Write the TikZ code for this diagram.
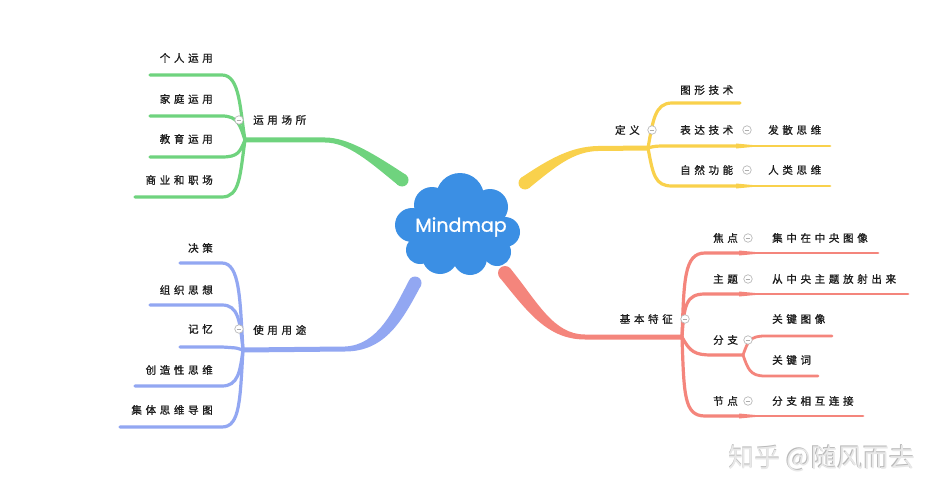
\documentclass[tikz,border=0pt]{standalone}
\usepackage{fontspec}
\newfontfamily\cjk[LetterSpace=35,FakeBold=1.3]{Noto Sans CJK SC}
\newfontfamily\wmfont{Noto Sans CJK SC}
\newfontfamily\mmfont[FakeBold=1]{Poppins}
\definecolor{cgreen}{HTML}{6FD37E}
\definecolor{cyellow}{HTML}{F9D14C}
\definecolor{cred}{HTML}{F4857C}
\definecolor{cblue}{HTML}{92A7F2}
\definecolor{ccloud}{HTML}{3B8FE4}
\definecolor{ctext}{HTML}{1E1E1E}
\tikzset{
  lbl/.style={font=\cjk\fontsize{10.5}{12}\selectfont, text=ctext, inner sep=0pt},
  sub/.style={line width=3.2pt, line cap=round},
  subsub/.style={line width=2.8pt, line cap=round},
  fold/.style={circle, draw=gray!55, fill=white, line width=0.7pt, minimum size=8.5pt, inner sep=0pt,
    path picture={\draw[gray!65, line width=0.7pt] ([xshift=-2.4pt]path picture bounding box.center) -- ([xshift=2.4pt]path picture bounding box.center);}},
}
\begin{document}
\begin{tikzpicture}[x=1pt,y=-1pt]
\useasboundingbox (0,0) rectangle (950,500);
\fill[white] (0,0) rectangle (950,500);

% ---------- cloud ----------
\begin{scope}[fill=ccloud]
\fill (460,197) circle (24pt);
\fill (432,205) circle (18pt);
\fill (490,207) circle (18pt);
\fill (412,225) circle (17pt);
\fill (505,232) circle (15pt);
\fill (420,250) circle (14pt);
\fill (440,256) circle (18pt);
\fill (470,258) circle (17pt);
\fill (497,252) circle (14pt);
\fill (458,228) ellipse (47pt and 28pt);
\end{scope}
\node[font=\mmfont\fontsize{19}{20}\selectfont, text=white, inner sep=0pt] (center) at (461,227) {Mindmap};

% ---------- green ----------
\coordinate (gA) at (402,180);
\coordinate (gH) at (245,140);
\fill[cgreen] (245,137.5) -- (325,137.5) .. controls (348,137.5) and (374.7,154.4) .. (405.8,174.8)
  -- (398.2,185.2) .. controls (369.3,161.6) and (348,142.5) .. (325,142.5) -- (245,142.5) -- cycle;
\fill[cgreen] (gA) circle (6.5pt);
\coordinate (g1) at (150,75);
\coordinate (g2) at (150,116);
\coordinate (g3) at (150,157);
\coordinate (g4) at (135,197);
\draw[sub,cgreen] (gH) .. controls (240,110) and (240,75) .. (222,75) -- (g1);
\draw[sub,cgreen] (gH) .. controls (240,125) and (238,116) .. (222,116) -- (g2);
\draw[sub,cgreen] (gH) .. controls (240,152) and (238,157) .. (222,157) -- (g3);
\draw[sub,cgreen] (gH) .. controls (240,175) and (240,197) .. (222,197) -- (g4);
\node[lbl,anchor=east] (g1t) at (213,58) {个人运用};
\node[lbl,anchor=east] (g2t) at (213,99) {家庭运用};
\node[lbl,anchor=east] (g3t) at (213,139) {教育运用};
\node[lbl,anchor=east] (g4t) at (213,180) {商业和职场};
\node[lbl,anchor=west] (gL) at (253,120) {运用场所};
\node[fold] (gF) at (239,120) {};

% ---------- yellow ----------
\coordinate (yA) at (525,183);
\coordinate (yH) at (648,148);
\fill[cyellow] (648,145.5) -- (598,146) .. controls (571,146.5) and (549,159) .. (521.1,177.8)
  -- (528.9,188.2) .. controls (555,167) and (573,151.5) .. (598,151) -- (648,150.5) -- cycle;
\fill[cyellow] (yA) circle (6.5pt);
\coordinate (y1) at (740,103);
\coordinate (y2) at (740,146);
\coordinate (y3) at (740,186);
\coordinate (y2e) at (830,146);
\coordinate (y3e) at (830,186);
\draw[sub,cyellow] (yH) .. controls (653,120) and (655,103) .. (672,103) -- (y1);
\draw[sub,cyellow] (yH) .. controls (655,146) .. (672,146) -- (y2);
\draw[sub,cyellow] (yH) .. controls (653,175) and (655,186) .. (672,186) -- (y3);
\draw[subsub,cyellow] (y2) -- (y2e);
\draw[subsub,cyellow] (y3) -- (y3e);
\fill[cyellow] (736,143.5) -- (752,145) -- (752,147) -- (736,148.5) -- cycle;
\fill[cyellow] (736,183.5) -- (752,185) -- (752,187) -- (736,188.5) -- cycle;
\node[lbl,anchor=east] (yL) at (640,130) {定义};
\node[fold] (yF) at (652,130) {};
\node[lbl,anchor=west] (y1t) at (680,90) {图形技术};
\node[lbl,anchor=west] (y2t) at (680,130) {表达技术};
\node[lbl,anchor=west] (y3t) at (680,170) {自然功能};
\node[fold] (y2f) at (747,130) {};
\node[fold] (y3f) at (747,170) {};
\node[lbl,anchor=west] (y2s) at (768,130) {发散思维};
\node[lbl,anchor=west] (y3s) at (768,170) {人类思维};

% ---------- red ----------
\coordinate (rA) at (505,273);
\coordinate (rH) at (682,337);
\fill[cred] (510.4,268.6) .. controls (537,301) and (553,334.5) .. (585,334.5) -- (682,334.5)
  -- (682,339.5) -- (585,339.5) .. controls (547,339.5) and (527,311) .. (499.6,277.4) -- cycle;
\fill[cred] (rA) circle (7pt);
\coordinate (r1) at (743,253);
\coordinate (r2) at (743,294);
\coordinate (r3) at (743,355);
\coordinate (r4) at (743,416);
\coordinate (r1e) at (878,253);
\coordinate (r2e) at (908,294);
\coordinate (r4e) at (863,416);
\coordinate (r3a) at (832,336);
\coordinate (r3b) at (818,376);
\draw[sub,cred] (rH) .. controls (684,280) and (684,253) .. (705,253) -- (r1);
\draw[sub,cred] (rH) .. controls (684,305) and (686,294) .. (705,294) -- (r2);
\draw[sub,cred] (rH) .. controls (690,352) and (695,355) .. (712,355) -- (r3);
\draw[sub,cred] (rH) .. controls (684,395) and (684,416) .. (705,416) -- (r4);
\draw[subsub,cred] (r1) -- (r1e);
\draw[subsub,cred] (r2) -- (r2e);
\draw[subsub,cred] (r4) -- (r4e);
\draw[subsub,cred] (r3) .. controls (748,341) and (750,336) .. (765,336) -- (r3a);
\draw[subsub,cred] (r3) .. controls (748,369) and (750,376) .. (765,376) -- (r3b);
\fill[cred] (739,250.5) -- (755,252) -- (755,254) -- (739,255.5) -- cycle;
\fill[cred] (739,291.5) -- (755,293) -- (755,295) -- (739,296.5) -- cycle;
\fill[cred] (739,413.5) -- (755,415) -- (755,417) -- (739,418.5) -- cycle;
\node[lbl,anchor=east] (rL) at (673,319) {基本特征};
\node[fold] (rF) at (685,319) {};
\node[lbl,anchor=west] (r1t) at (713,238) {焦点};
\node[lbl,anchor=west] (r2t) at (713,279) {主题};
\node[lbl,anchor=west] (r3t) at (713,340) {分支};
\node[lbl,anchor=west] (r4t) at (713,401) {节点};
\node[fold] (r1f) at (748,238) {};
\node[fold] (r2f) at (748,279) {};
\node[fold] (r3f) at (748,340) {};
\node[fold] (r4f) at (748,401) {};
\node[lbl,anchor=west] (r1s) at (772,238) {集中在中央图像};
\node[lbl,anchor=west] (r2s) at (772,279) {从中央主题放射出来};
\node[lbl,anchor=west] (r3s) at (772,319) {关键图像};
\node[lbl,anchor=west] (r3u) at (772,360) {关键词};
\node[lbl,anchor=west] (r4s) at (772,401) {分支相互连接};

% ---------- blue ----------
\coordinate (bA) at (415,283);
\coordinate (bH) at (243,350);
\fill[cblue] (420.7,286.0) .. controls (403,319) and (386,351.5) .. (345,351.5) -- (243,352.5)
  -- (243,347.5) -- (345,346.5) .. controls (378,345) and (393,311) .. (409.3,280.0) -- cycle;
\fill[cblue] (bA) circle (6.5pt);
\coordinate (b1) at (180,263);
\coordinate (b2) at (150,305);
\coordinate (b3) at (180,347);
\coordinate (b4) at (135,386);
\coordinate (b5) at (120,427);
\draw[sub,cblue] (bH) .. controls (240,300) and (240,263) .. (222,263) -- (b1);
\draw[sub,cblue] (bH) .. controls (240,320) and (238,305) .. (222,305) -- (b2);
\draw[sub,cblue] (bH) .. controls (238,348) .. (222,347) -- (b3);
\draw[sub,cblue] (bH) .. controls (240,372) and (238,386) .. (222,386) -- (b4);
\draw[sub,cblue] (bH) .. controls (240,400) and (240,427) .. (222,427) -- (b5);
\node[lbl,anchor=east] (b1t) at (213,248) {决策};
\node[lbl,anchor=east] (b2t) at (213,290) {组织思想};
\node[lbl,anchor=east] (b3t) at (213,329) {记忆};
\node[lbl,anchor=east] (b4t) at (213,370) {创造性思维};
\node[lbl,anchor=east] (b5t) at (213,410) {集体思维导图};
\node[lbl,anchor=west] (bL) at (253,330) {使用用途};
\node[fold] (bF) at (239,329) {};

% ---------- watermark ----------
\node[font=\wmfont\fontsize{26}{28}\selectfont, text=gray!55, inner sep=0pt] (wm0) at (821.2,458.2) {知乎 @随风而去};
\node[font=\wmfont\fontsize{26}{28}\selectfont, text=gray!18, inner sep=0pt] (wm) at (822,459) {知乎 @随风而去};
\end{tikzpicture}
\end{document}
